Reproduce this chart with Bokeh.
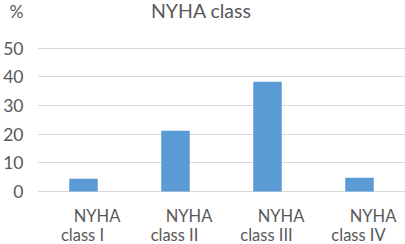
from bokeh.plotting import figure
from bokeh.models import FactorRange, Range1d, FixedTicker, ColumnDataSource, Label
from bokeh.core.properties import value
from bokeh.embed import file_html
from bokeh.resources import INLINE

categories = ["I", "II", "III", "IV"]
values = [4.4, 21.2, 38.3, 4.8]
label_top = ["NYHA", "NYHA", "NYHA", "NYHA"]
label_bottom = ["class I", "class II", "class III", "class IV"]
y_ticks = [0, 10, 20, 30, 40, 50]
unit_label = "%"
title_text = "NYHA class"

FONT = "Lato"
GREY = "#595959"
UNIT_POS = 63

p = figure(width=405, height=244, x_range=FactorRange(*categories, range_padding=0),
           y_range=Range1d(-18.5, 66.6), output_backend="svg", toolbar_location=None,
           min_border_left=35, min_border_right=0, min_border_top=0, min_border_bottom=0)
p.outline_line_color = None
p.xaxis.visible = False
p.xgrid.grid_line_color = None
p.ygrid.ticker = FixedTicker(ticks=y_ticks)
p.ygrid.grid_line_color = "#D9D9D9"
p.ygrid.grid_line_width = 1
p.yaxis.ticker = FixedTicker(ticks=y_ticks + [UNIT_POS])
p.yaxis.major_label_overrides = {UNIT_POS: unit_label}
p.yaxis.axis_line_color = None
p.yaxis.major_tick_line_color = None
p.yaxis.minor_tick_line_color = None
p.yaxis.major_tick_out = 0
p.yaxis.major_tick_in = 0
p.yaxis.minor_tick_out = 0
p.yaxis.minor_tick_in = 0
p.yaxis.major_label_text_font = FONT
p.yaxis.major_label_text_font_size = "17.5px"
p.yaxis.major_label_text_color = GREY
p.yaxis.major_label_standoff = 14

src = ColumnDataSource(dict(cat=categories, val=values, top=label_top, bot=label_bottom,
                            ytop=[-8.5] * 4, ybot=[-15.2] * 4))
p.vbar(x="cat", top="val", bottom=0, width=0.31, source=src, fill_color="#5B9BD5", line_color=None)

p.text(x="cat", y="ytop", text="top", source=src, x_offset=13.5, text_align="center",
       text_baseline="middle", text_font=value(FONT), text_font_size="16.5px", text_color=GREY)
p.text(x="cat", y="ybot", text="bot", source=src, x_offset=-1, text_align="center",
       text_baseline="middle", text_font=value(FONT), text_font_size="16.5px", text_color=GREY)

p.add_layout(Label(x=1.78, y=63.0, text=title_text, text_align="center", text_baseline="middle",
                   text_font=FONT, text_font_size="19.5px", text_color=GREY))

open("out.html", "w").write(file_html(p, INLINE))
